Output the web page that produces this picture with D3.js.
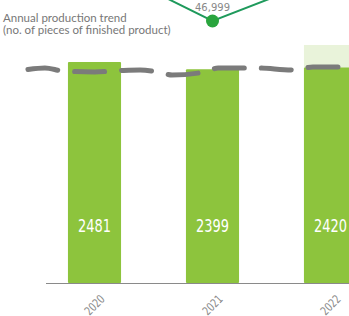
<!DOCTYPE html>
<html>
<head>
<meta charset="utf-8">
<script src="https://cdn.jsdelivr.net/npm/d3@7"></script>
<style>
  body { margin: 0; background: #fff; }
  svg { display: block; }
  .narrow { font-family: "DejaVu Sans", sans-serif; }
</style>
</head>
<body>
<div id="chart"></div>
<script>
// chart data
var years = ["2020", "2021", "2022"];
var pieces = [2481, 2399, 2420];
var capacity = [null, null, 2672];
var topValues = [53900, 46999, 52400];
var topLabels = ["53,900", "46,999", "52,400"];
// gray trend line (x in year-index units)
var trendIdx = [-0.564, -0.42, -0.267, 0, 0.225, 0.386, 0.555, 0.657, 0.936, 1.047, 1.36, 1.69, 1.85, 2.1];
var trendVal = [2397, 2414, 2380, 2369, 2385, 2391, 2363, 2335, 2369, 2414, 2414, 2391, 2425, 2425];
var titleLines = ["Annual production trend", "(no. of pieces of finished product)"];

var svgWidth = 349, svgHeight = 316;
var baseY = 283;

var svg = d3.select("#chart").append("svg")
  .attr("width", svgWidth)
  .attr("height", svgHeight);

var x = d3.scaleBand()
  .domain(years)
  .range([35.5, 389.5])
  .paddingInner(0.55)
  .paddingOuter(0.275);

var xIdx = d3.scaleLinear()
  .domain([0, 2])
  .range([x(years[0]) + x.bandwidth() / 2, x(years[2]) + x.bandwidth() / 2]);

var y = d3.scaleLinear()
  .domain([0, 3000])
  .range([baseY, baseY - 0.08908 * 3000]);

var y2 = d3.scaleLinear()
  .domain([46999, 56999])
  .range([21, 21 - 85]);

// light background bar (2022)
svg.selectAll(".cap")
  .data(years.map(function(d, i) { return {year: d, v: capacity[i]}; }).filter(function(d) { return d.v; }))
  .enter().append("rect")
  .attr("x", d => x(d.year))
  .attr("width", x.bandwidth())
  .attr("y", d => y(d.v))
  .attr("height", d => baseY - y(d.v))
  .attr("fill", "#e9f3da");

// bars
svg.selectAll(".bar")
  .data(years.map(function(d, i) { return {year: d, v: pieces[i]}; }))
  .enter().append("rect")
  .attr("x", d => x(d.year))
  .attr("width", x.bandwidth())
  .attr("y", d => y(d.v))
  .attr("height", d => baseY - y(d.v))
  .attr("rx", 1)
  .attr("fill", "#8dc43d");

// bar values (squeezed horizontally, the original font is condensed)
svg.selectAll(".val")
  .data(years.map(function(d, i) { return {year: d, v: pieces[i]}; }))
  .enter().append("text")
  .attr("class", "narrow")
  .attr("transform", d => "translate(" + (x(d.year) + x.bandwidth() / 2) + ",232) scale(0.72,1)")
  .attr("text-anchor", "middle")
  .attr("fill", "#fff")
  .style("font-size", "18px")
  .text(d => d.v);

// baseline
svg.append("line")
  .attr("x1", 46).attr("x2", svgWidth)
  .attr("y1", baseY + 0.5).attr("y2", baseY + 0.5)
  .attr("stroke", "#8a8a8a")
  .attr("stroke-width", 1.2);

// x labels
svg.selectAll(".xl")
  .data(years)
  .enter().append("text")
  .attr("class", "narrow")
  .attr("transform", d => "translate(" + (x(d) + x.bandwidth() / 2) + ",305) rotate(-45) scale(0.75,1)")
  .attr("text-anchor", "middle")
  .attr("dy", "0.35em")
  .attr("fill", "#8a8a8a")
  .style("font-size", "12px")
  .text(d => d);

// gray dashed trend line
var trendLine = d3.line()
  .x(d => xIdx(d[0]))
  .y(d => y(d[1]))
  .curve(d3.curveMonotoneX);

svg.append("path")
  .datum(trendIdx.map((d, i) => [d, trendVal[i]]))
  .attr("d", trendLine)
  .attr("fill", "none")
  .attr("stroke", "#7b7b7b")
  .attr("stroke-width", 5)
  .attr("stroke-linecap", "round")
  .attr("stroke-dasharray", "30,17");

// top green line
var topLine = d3.line()
  .x((d, i) => x(years[i]) + x.bandwidth() / 2)
  .y(d => y2(d));

svg.append("path")
  .datum(topValues)
  .attr("d", topLine)
  .attr("fill", "none")
  .attr("stroke", "#1f9a5c")
  .attr("stroke-width", 2);

svg.selectAll(".dot")
  .data(topValues)
  .enter().append("circle")
  .attr("cx", (d, i) => x(years[i]) + x.bandwidth() / 2)
  .attr("cy", d => y2(d))
  .attr("r", 6.5)
  .attr("fill", "#2aa53e");

svg.selectAll(".tl")
  .data(topValues)
  .enter().append("text")
  .attr("class", "narrow")
  .attr("transform", d => "translate(" + 0 + "," + (y2(d) - 10) + ")")
  .attr("x", (d, i) => x(years[i]) + x.bandwidth() / 2)
  .attr("text-anchor", "middle")
  .attr("fill", "#888")
  .style("font-size", "10px")
  .text((d, i) => topLabels[i]);

// title
svg.selectAll(".title")
  .data(titleLines)
  .enter().append("text")
  .attr("x", 3)
  .attr("y", (d, i) => 22 + i * 12)
  .attr("fill", "#777")
  .style("font-family", "Lato, sans-serif")
  .style("font-size", "11.5px")
  .text(d => d);
</script>
</body>
</html>
